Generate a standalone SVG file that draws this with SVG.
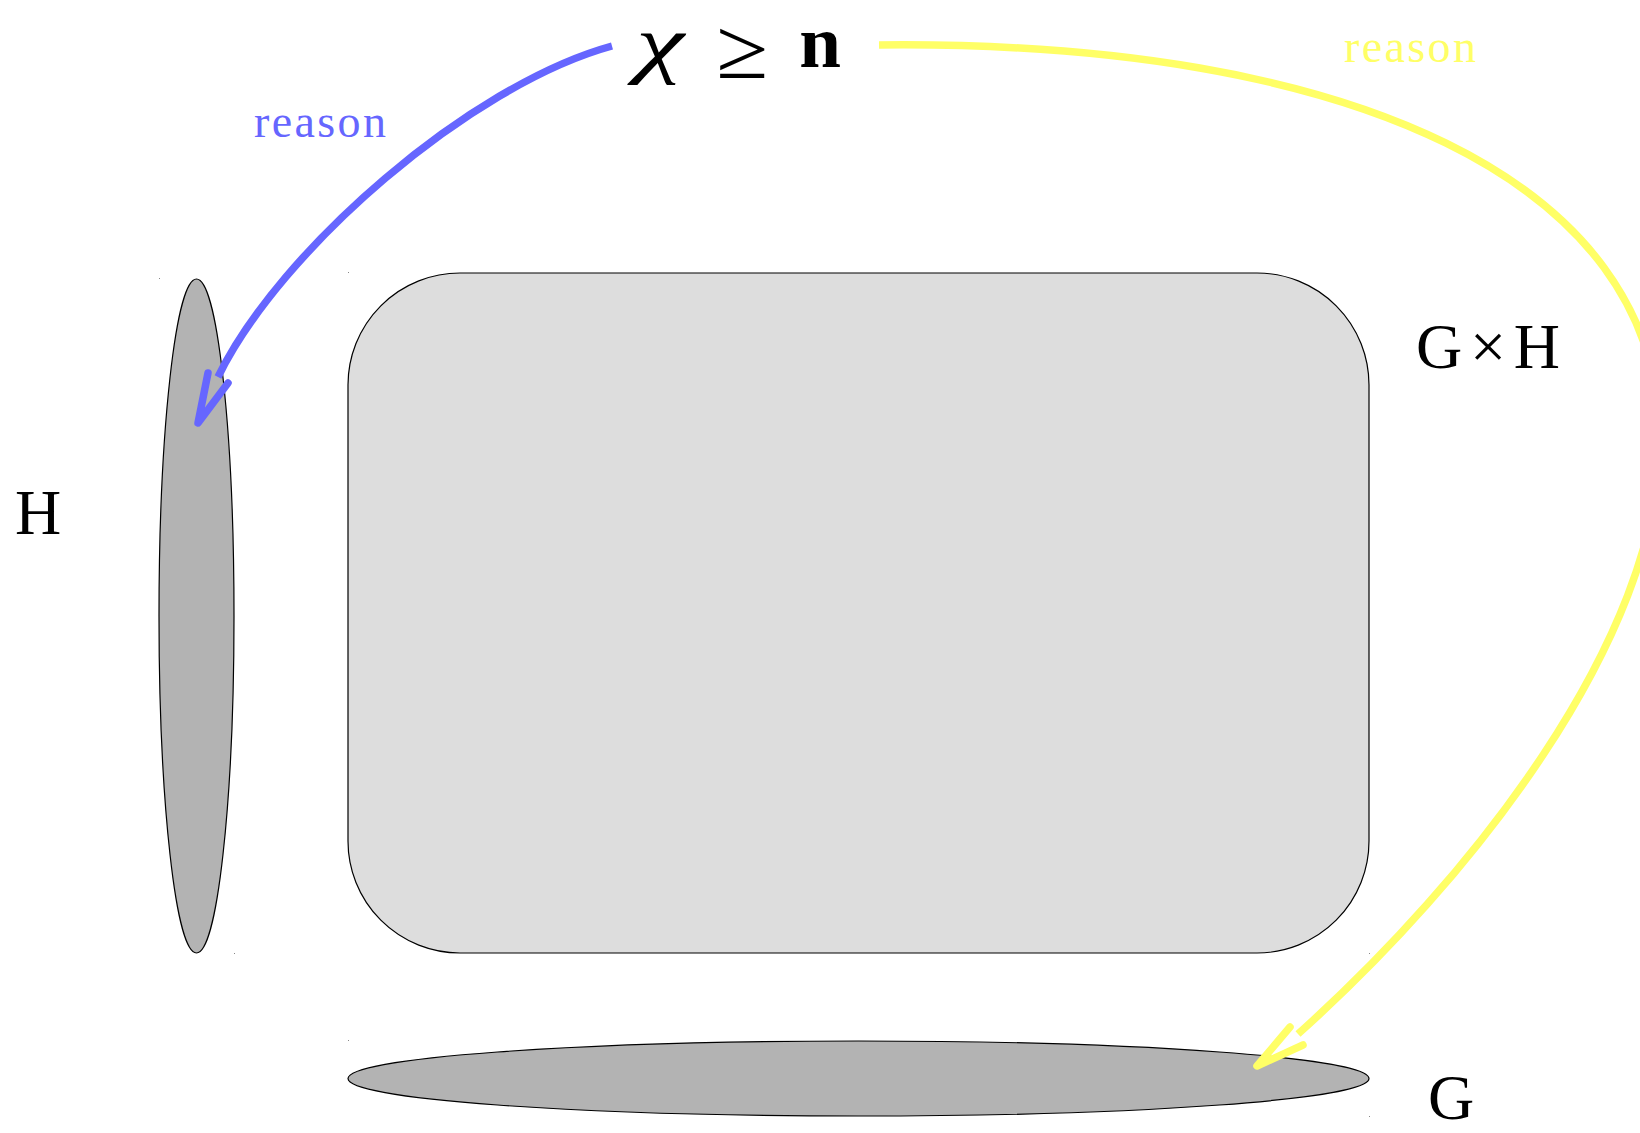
<svg xmlns="http://www.w3.org/2000/svg" width="1640" height="1133" viewBox="0 0 1640 1133">
<style>
.t{font-family:"Liberation Serif","DejaVu Serif",serif;fill:#000}
.shape{stroke:#000;stroke-width:1.2}
.dot{fill:#888}
.blue{fill:none;stroke:#6666ff;stroke-width:7.5;stroke-linejoin:round}
.yel{fill:none;stroke:#ffff66;stroke-width:7.5;stroke-linejoin:round}
.head{stroke-linecap:round}
</style>
<rect width="1640" height="1133" fill="#fff"/>
<g id="GxH">
<rect class="shape" x="348" y="273" width="1021" height="680" rx="112" ry="112" fill="#dddddd"/>
<rect class="dot" x="348" y="272" width="1" height="1"/>
<rect class="dot" x="1369" y="953" width="1" height="1"/>
<text class="t" x="1416" y="368" font-size="64" textLength="144">G×H</text>
</g>
<g id="H">
<ellipse class="shape" cx="196.5" cy="616" rx="37.5" ry="337" fill="#b3b3b3"/>
<rect class="dot" x="159" y="278" width="1" height="1"/>
<rect class="dot" x="234" y="953" width="1" height="1"/>
<text class="t" x="15" y="534" font-size="64">H</text>
</g>
<g id="G">
<ellipse class="shape" cx="858.5" cy="1078.5" rx="510.5" ry="37.5" fill="#b3b3b3"/>
<rect class="dot" x="348" y="1040" width="1" height="1"/>
<rect class="dot" x="1369" y="1116" width="1" height="1"/>
<text class="t" x="1428" y="1119" font-size="64">G</text>
</g>
<g id="chi">
<text class="t" x="636" y="69" font-size="77" font-style="italic" textLength="48" lengthAdjust="spacingAndGlyphs">χ</text>
<text class="t" x="716" y="78" font-size="86" textLength="52" lengthAdjust="spacingAndGlyphs">≥</text>
<text class="t" x="820" y="67" font-size="75" font-weight="bold" text-anchor="middle">n</text>
</g>
<g id="connectors">
<path class="blue" d="M612,46 C470,85 280,250 218,377"/>
<polyline class="blue head" points="208,373 198,423 228,383"/>
<text x="320" y="137" font-family="Liberation Serif, serif" font-size="46" fill="#6666ff" text-anchor="middle" textLength="132">reason</text>
<path class="yel" d="M879,45 C1350,40 1660,180 1660,440 C1660,640 1470,880 1298,1034"/>
<polyline class="yel head" points="1290,1027 1257,1066 1303,1045"/>
<text x="1410" y="62" font-family="Liberation Serif, serif" font-size="46" fill="#ffff66" text-anchor="middle" textLength="132">reason</text>
</g>
</svg>
